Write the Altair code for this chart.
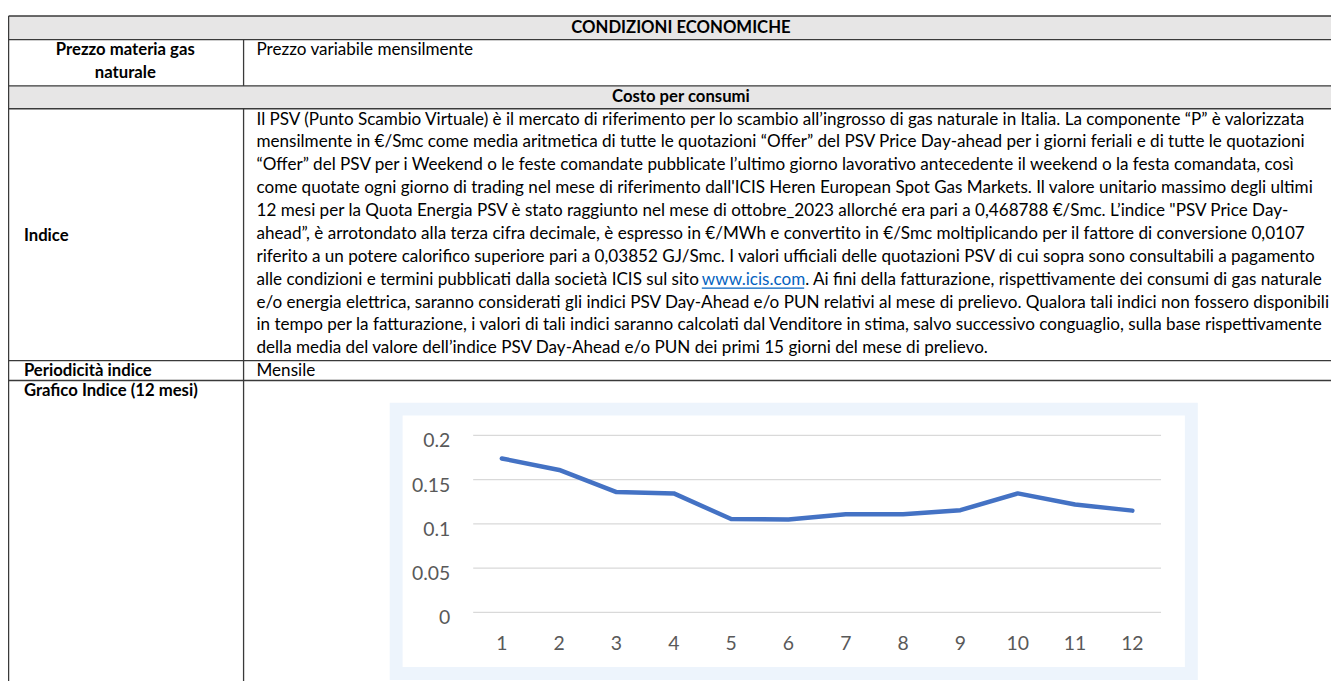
import altair as alt
import pandas as pd

# ------------------------------------------------------------------ data
months = [1, 2, 3, 4, 5, 6, 7, 8, 9, 10, 11, 12]
psv_index = [0.174, 0.161, 0.136, 0.1345, 0.1055, 0.105, 0.111, 0.111, 0.1155, 0.1345, 0.122, 0.115]
y_ticks = [0.0, 0.05, 0.1, 0.15, 0.2]
y_tick_labels = ["0", "0.05", "0.1", "0.15", "0.2"]
x_tick_labels = [str(m) for m in months]

title_text = "CONDIZIONI ECONOMICHE"
section_text = "Costo per consumi"
row1_label = ["Prezzo materia gas", "naturale"]
row1_value = "Prezzo variabile mensilmente"
index_label = "Indice"
index_lines = [
    "Il PSV (Punto Scambio Virtuale) è il mercato di riferimento per lo scambio all’ingrosso di gas naturale in Italia. La componente “P” è valorizzata",
    "mensilmente in €/Smc come media aritmetica di tutte le quotazioni “Offer” del PSV Price Day-ahead per i giorni feriali e di tutte le quotazioni",
    "“Offer” del PSV per i Weekend o le feste comandate pubblicate l’ultimo giorno lavorativo antecedente il weekend o la festa comandata, così",
    "come quotate ogni giorno di trading nel mese di riferimento dall'ICIS Heren European Spot Gas Markets. Il valore unitario massimo degli ultimi",
    "12 mesi per la Quota Energia PSV è stato raggiunto nel mese di ottobre_2023 allorché era pari a 0,468788 €/Smc. L’indice \"PSV Price Day-",
    "ahead”, è arrotondato alla terza cifra decimale, è espresso in €/MWh e convertito in €/Smc moltiplicando per il fattore di conversione 0,0107",
    "riferito a un potere calorifico superiore pari a 0,03852 GJ/Smc. I valori ufficiali delle quotazioni PSV di cui sopra sono consultabili a pagamento",
    "alle condizioni e termini pubblicati dalla società ICIS sul sito ",
    "e/o energia elettrica, saranno considerati gli indici PSV Day-Ahead e/o PUN relativi al mese di prelievo. Qualora tali indici non fossero disponibili",
    "in tempo per la fatturazione, i valori di tali indici saranno calcolati dal Venditore in stima, salvo successivo conguaglio, sulla base rispettivamente",
    "della media del valore dell’indice PSV Day-Ahead e/o PUN dei primi 15 giorni del mese di prelievo.",
]
link_text = "www.icis.com"
link_tail = ". Ai fini della fatturazione, rispettivamente dei consumi di gas naturale"
period_label = "Periodicità indice"
period_value = "Mensile"
chart_label = "Grafico Indice (12 mesi)"

# ------------------------------------------------------------------ layout (page px)
OX, OY = 8, 8
W, H = 1331, 675
FONT = "Lato"
TXT = 17.2
TXT_B = 16.8
ROW_Y = [14, 37.7, 84.3, 107.3, 360.7, 380.7]
T_L = 8.6
COL_X = 245
LEFT_PAD_X = 24
RIGHT_X = 258
PARA_Y0, PARA_DY = 118.3, 23.0
LINK_X0, LINK_X1 = 706, 809
BOX = (392, 403, 1205, 682)      # chart outer box
BOX_IN = (405, 416, 1192, 669)   # chart inner white area
PLOT_X = (476, 1168)
PLOT_Y = (614, 436)
LINE_BLUE = "#4472c4"


def px(v):
    return v - OX


def py(v):
    return v - OY


ident_x = lambda f: alt.X(f, type="quantitative", scale=None, axis=None)
ident_y = lambda f: alt.Y(f, type="quantitative", scale=None, axis=None)

# ------------------------------------------------------------------ table frame
fills = pd.DataFrame({
    "x": [px(T_L), px(T_L)], "x2": [W, W],
    "y": [py(ROW_Y[0]), py(ROW_Y[2])], "y2": [py(ROW_Y[1]), py(ROW_Y[3])],
})
fill_layer = alt.Chart(fills).mark_rect(color="#e7e6e6").encode(
    x=ident_x("x"), x2="x2", y=ident_y("y"), y2="y2")

segs = []
for yy in ROW_Y:
    segs.append((px(T_L), py(yy), W, py(yy)))
segs.append((px(T_L), py(ROW_Y[0]), px(T_L), H))
segs.append((px(COL_X), py(ROW_Y[1]), px(COL_X), py(ROW_Y[2])))
segs.append((px(COL_X), py(ROW_Y[3]), px(COL_X), H))
lines_df = pd.DataFrame(segs, columns=["x", "y", "x2", "y2"])
grid_layer = alt.Chart(lines_df).mark_rule(color="#3a3a3a", strokeWidth=1.3).encode(
    x=ident_x("x"), x2="x2", y=ident_y("y"), y2="y2")

# ------------------------------------------------------------------ table texts
bold_center = pd.DataFrame({
    "x": [px(685), px(685), px(126), px(126)],
    "y": [py(25.8), py(95.8), py(48.7), py(71.7)],
    "text": [title_text, section_text, row1_label[0], row1_label[1]],
})
bold_left = pd.DataFrame({
    "x": [px(LEFT_PAD_X)] * 3,
    "y": [py(235), py(370.7), py(391.7)],
    "text": [index_label, period_label, chart_label],
})
reg_rows = [(px(RIGHT_X), py(48.7), row1_value), (px(RIGHT_X), py(370.7), period_value)]
for i, t in enumerate(index_lines):
    reg_rows.append((px(RIGHT_X), py(PARA_Y0 + PARA_DY * i), t))
reg_rows.append((px(LINK_X1 + 1), py(PARA_Y0 + PARA_DY * 7), link_tail))
regular_left = pd.DataFrame(reg_rows, columns=["x", "y", "text"])
link_df = pd.DataFrame({"x": [px(LINK_X0)], "y": [py(PARA_Y0 + PARA_DY * 7)], "text": [link_text]})
underline_df = pd.DataFrame({"x": [px(LINK_X0)], "x2": [px(LINK_X1)],
                             "y": [py(PARA_Y0 + PARA_DY * 7 + 8.5)]})


def text_layer(df, weight, align, size, color="black"):
    return alt.Chart(df).mark_text(
        font=FONT, fontSize=size, fontWeight=weight, align=align, baseline="middle", color=color
    ).encode(x=ident_x("x"), y=ident_y("y"), text="text:N")


t1 = text_layer(bold_center, "bold", "center", TXT_B)
t2 = text_layer(bold_left, "bold", "left", TXT_B)
t3 = text_layer(regular_left, "normal", "left", TXT)
t4 = text_layer(link_df, "normal", "left", TXT, "#0563c1")
t5 = alt.Chart(underline_df).mark_rule(color="#0563c1", strokeWidth=1.1).encode(
    x=ident_x("x"), x2="x2", y=ident_y("y"))

# ------------------------------------------------------------------ chart box
box_df = pd.DataFrame({
    "x": [px(BOX[0]), px(BOX_IN[0])], "x2": [px(BOX[2]), px(BOX_IN[2])],
    "y": [py(BOX[1]), py(BOX_IN[1])], "y2": [py(BOX[3]), py(BOX_IN[3])],
    "c": ["#edf4fc", "#ffffff"],
})
box_layer = alt.Chart(box_df).mark_rect().encode(
    x=ident_x("x"), x2="x2", y=ident_y("y"), y2="y2",
    color=alt.Color("c:N", scale=None, legend=None))

# ------------------------------------------------------------------ line chart
x_scale = alt.Scale(type="point", domain=months, range=[px(PLOT_X[0]), px(PLOT_X[1])], padding=0.5)
y_scale = alt.Scale(domain=[0, 0.2], range=[py(PLOT_Y[0]), py(PLOT_Y[1])], nice=False, zero=False)

series = pd.DataFrame({"month": months, "value": psv_index})
yt = pd.DataFrame({"tick": y_ticks, "label": y_tick_labels})
xt = pd.DataFrame({"month": months, "label": x_tick_labels})

gridlines = alt.Chart(yt).mark_rule(color="#d9d9d9", strokeWidth=1.3).encode(
    y=alt.Y("tick:Q", scale=y_scale, axis=None),
    x=alt.value(px(PLOT_X[0])), x2=alt.value(px(PLOT_X[1])))
ylabels = alt.Chart(yt).mark_text(
    font=FONT, fontSize=19.5, color="#595959", align="right", baseline="middle", dy=6
).encode(y=alt.Y("tick:Q", scale=y_scale, axis=None), x=alt.value(px(453)), text="label:N")
xlabels = alt.Chart(xt).mark_text(
    font=FONT, fontSize=19.5, color="#595959", align="center", baseline="middle"
).encode(x=alt.X("month:O", scale=x_scale, axis=None), y=alt.value(py(646)), text="label:N")
line = alt.Chart(series).mark_line(
    color=LINE_BLUE, strokeWidth=4.5, strokeCap="round", strokeJoin="round"
).encode(x=alt.X("month:O", scale=x_scale, axis=None),
         y=alt.Y("value:Q", scale=y_scale, axis=None))

chart = alt.layer(
    fill_layer, box_layer, gridlines, ylabels, xlabels, line,
    grid_layer, t1, t2, t3, t4, t5,
).resolve_scale(x="independent", y="independent", color="independent").properties(
    width=W, height=H, padding=0, autosize=alt.AutoSizeParams(type="none"),
    background="white",
).configure_view(stroke=None)

chart.save("out.html", embed_options={"renderer": "svg", "actions": False})
